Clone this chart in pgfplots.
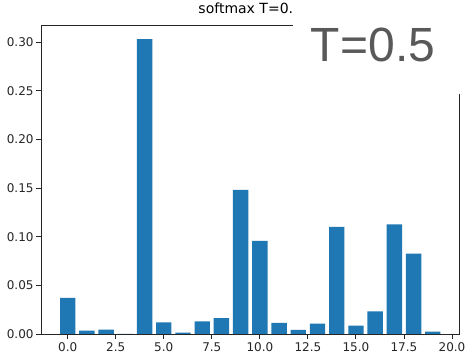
\documentclass[border=0pt]{standalone}
\usepackage{pgfplots}
\pgfplotsset{compat=1.18}
\usepackage{fontspec}
\setmainfont{DejaVu Sans}
\newfontfamily\arialfont{Liberation Sans}
\definecolor{mplblue}{HTML}{1F77B4}
\definecolor{bigtext}{HTML}{595959}
\begin{document}
\begin{tikzpicture}[x=1pt,y=1pt]
\path[fill=white] (0,0) rectangle (471,358);
\begin{axis}[
  at={(41pt,26pt)}, anchor=south west,
  scale only axis, width=418.5pt, height=309pt,
  xmin=-1.39, xmax=20.39, ymin=0, ymax=0.3175,
  xtick={0,2.5,...,20}, ytick={0,0.05,...,0.30},
  xtick pos=bottom, ytick pos=left,
  tick align=outside, major tick length=4.9pt,
  tick style={black!85, line width=0.9pt},
  axis line style={black!85, line width=0.9pt},
  /pgf/number format/assume math mode=true,
  xticklabel style={font=\fontsize{12}{14}\selectfont, text=black!85, /pgf/number format/.cd, fixed, fixed zerofill, precision=1},
  yticklabel style={font=\fontsize{12}{14}\selectfont, text=black!85, xshift=1pt, /pgf/number format/.cd, fixed, fixed zerofill, precision=2},
  scaled y ticks=false,
  title={softmax T=0.5},
  title style={at={(0.5,1)}, anchor=base, yshift=5pt, font=\fontsize{14}{16}\selectfont},
  ybar, bar width=0.8,
]
\addplot[fill=mplblue, draw=none] coordinates {
(0,0.0370) (1,0.0034) (2,0.0044) (3,0.0002) (4,0.3030)
(5,0.0119) (6,0.0014) (7,0.0129) (8,0.0164) (9,0.1480)
(10,0.0956) (11,0.0113) (12,0.0041) (13,0.0106) (14,0.1100)
(15,0.0086) (16,0.0233) (17,0.1127) (18,0.0826) (19,0.0024)
};
\end{axis}
\fill[white] (293,266) rectangle (471,358);
\node[anchor=base, inner sep=0pt, text=bigtext, font=\arialfont\fontsize{48}{56}\selectfont] at (373,298) {T=0.5};
\end{tikzpicture}
\end{document}
